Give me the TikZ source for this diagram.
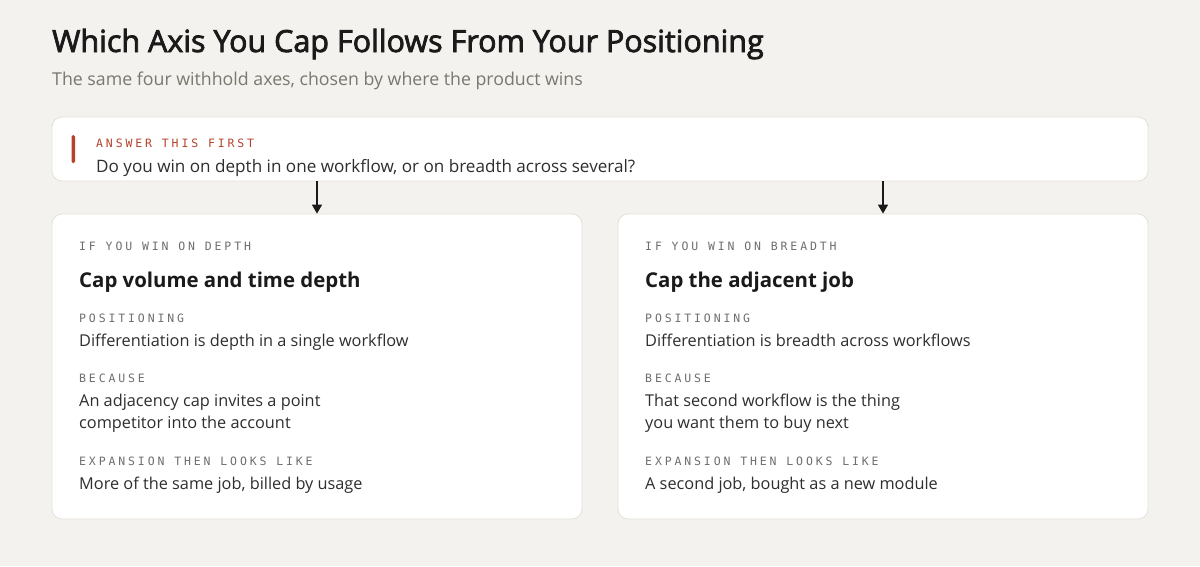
\documentclass[tikz,border=0pt]{standalone}
\usepackage{fontspec}
\setmainfont{Open Sans}
\newfontfamily\titlefont[FakeBold=2.5]{Open Sans}
\newfontfamily\monofont[LetterSpace=25]{DejaVu Sans Mono}
\usetikzlibrary{arrows.meta}
\definecolor{paper}{HTML}{F4F2EE}
\definecolor{edge}{HTML}{E4E1DA}
\definecolor{ink}{HTML}{1A1A1A}
\definecolor{body}{HTML}{2E2E2E}
\definecolor{muted}{HTML}{6E6E6E}
\definecolor{subgray}{HTML}{7A776F}
\definecolor{rust}{HTML}{B5432A}
\tikzset{
  card/.style={draw=edge, fill=white, rounded corners=10pt, line width=0.8pt, inner sep=0pt},
  txt/.style={anchor=base west, inner sep=0pt},
  tag/.style={txt, text=muted, font=\monofont\fontsize{11.5}{13}\selectfont},
  line/.style={txt, text=body, font=\fontsize{16.3}{20}\selectfont},
  head/.style={txt, text=ink, font=\bfseries\fontsize{20.4}{25}\selectfont},
}

\begin{document}
\begin{tikzpicture}[x=1pt, y=-1pt, >={Triangle[length=9pt, width=10pt]}]
	\fill[paper] (0, 0) rectangle (1200, 566);

	\node[txt, text=ink, font=\titlefont\fontsize{30.5}{36}\selectfont] (title) at (52, 52) {Which Axis You Cap Follows From Your Positioning};
	\node[txt, text=subgray, font=\fontsize{17.75}{21}\selectfont] (subtitle) at (52, 85) {The same four withhold axes, chosen by where the product wins};

	\node[card, minimum width=1096pt, minimum height=64pt] (ask) at (600, 149) {};
	\fill[rust, rounded corners=1.5pt] (71.5, 135) rectangle (75, 163);
	\node[tag, text=rust] (askTag) at (96, 147) {ANSWER THIS FIRST};
	\node[line, font=\fontsize{17.1}{20}\selectfont] (askLine) at (96, 172) {Do you win on depth in one workflow, or on breadth across several?};

	\node[card, minimum width=530pt, minimum height=305pt] (depth) at (317, 366.5) {};
	\node[card, minimum width=530pt, minimum height=305pt] (breadth) at (883, 366.5) {};

	\draw[ink, line width=1.5pt, ->] (ask.south -| depth.north) -- (depth.north);
	\draw[ink, line width=1.5pt, ->] (ask.south -| breadth.north) -- (breadth.north);

	% depth side
	\node[tag] (dIf) at (79, 250) {IF YOU WIN ON DEPTH};
	\node[head] (dHead) at (79, 287) {Cap volume and time depth};
	\node[tag] (dPos) at (79, 322) {POSITIONING};
	\node[line] (dPosText) at (79, 346) {Differentiation is depth in a single workflow};
	\node[tag] (dWhy) at (79, 382) {BECAUSE};
	\node[line] (dWhyA) at (79, 406) {An adjacency cap invites a point};
	\node[line] (dWhyB) at (79, 428) {competitor into the account};
	\node[tag] (dExp) at (79, 465) {EXPANSION THEN LOOKS LIKE};
	\node[line] (dExpText) at (79, 489) {More of the same job, billed by usage};

	% breadth side
	\node[tag] (bIf) at (645, 250) {IF YOU WIN ON BREADTH};
	\node[head] (bHead) at (645, 287) {Cap the adjacent job};
	\node[tag] (bPos) at (645, 322) {POSITIONING};
	\node[line] (bPosText) at (645, 346) {Differentiation is breadth across workflows};
	\node[tag] (bWhy) at (645, 382) {BECAUSE};
	\node[line] (bWhyA) at (645, 406) {That second workflow is the thing};
	\node[line] (bWhyB) at (645, 428) {you want them to buy next};
	\node[tag] (bExp) at (645, 465) {EXPANSION THEN LOOKS LIKE};
	\node[line] (bExpText) at (645, 489) {A second job, bought as a new module};
\end{tikzpicture}
\end{document}
